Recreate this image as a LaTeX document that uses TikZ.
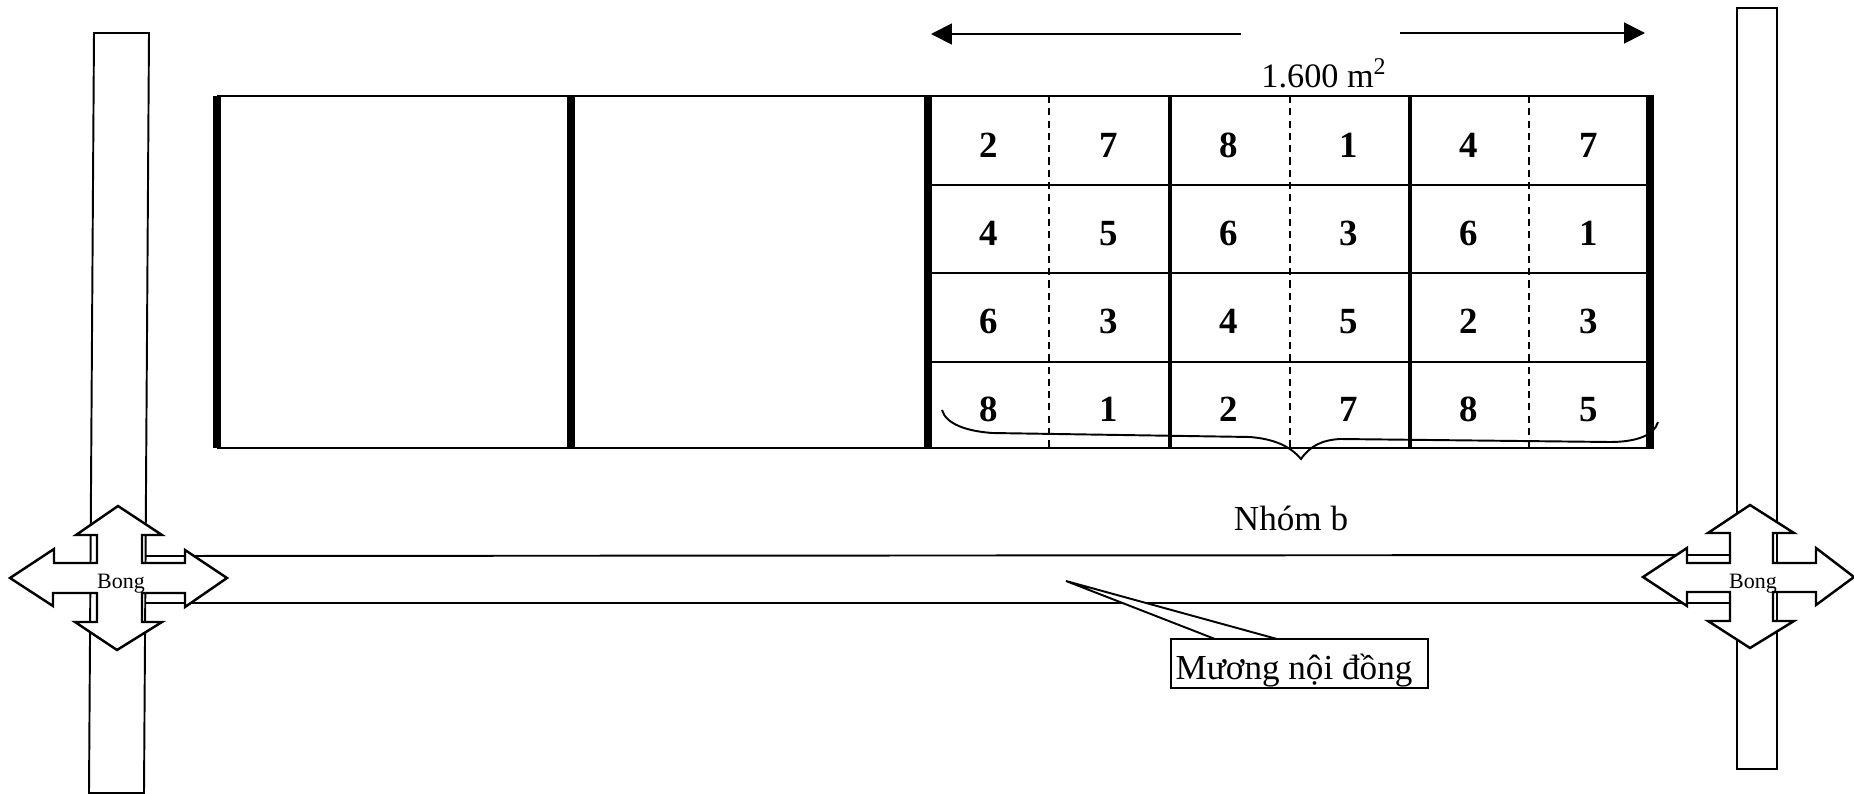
\documentclass[tikz,border=0pt]{standalone}
\usepackage{fontspec}
\setmainfont{Liberation Serif}
\usetikzlibrary{arrows.meta}
\tikzset{
    thinline/.style={line width=1.1pt},
    plotedge/.style={line width=4pt},
    repedge/.style={line width=1.8pt},
    halfedge/.style={line width=0.6pt, dash pattern=on 4pt off 3pt},
    bongarrow/.style={line width=1.4pt, fill=white, line join=miter},
    digit/.style={anchor=base, inner sep=0pt, font=\fontsize{21}{21}\selectfont\bfseries},
    label/.style={anchor=base, inner sep=0pt, font=\fontsize{20}{20}\selectfont},
    bong/.style={anchor=base, inner sep=0pt, font=\fontsize{12.5}{12.5}\selectfont}
}
\begin{document}
\begin{tikzpicture}[x=0.02cm, y=-0.02cm]
    \useasboundingbox (0,0) rectangle (1854,794);

    % Roads
    \draw[thinline] (94,33) -- (149,33) -- (144,793) -- (89,793) -- cycle;
    \draw[thinline] (1737,8) -- (1777,8) -- (1777,769) -- (1737,769) -- cycle;

    % Canal
    \draw[thinline] (146,556) -- (1730,555);
    \draw[thinline] (146,603) -- (1730,603);

    % Field block
    \draw[thinline] (217,96) -- (1654,96);
    \draw[thinline] (217,448) -- (1654,448);
    \foreach \y in {185,273,362}
        \draw[thinline] (928,\y) -- (1650,\y);
    \foreach \x in {217,571,928,1650}
        \draw[plotedge] (\x,96) -- (\x,448);
    \foreach \x in {1170,1410}
        \draw[repedge] (\x,96) -- (\x,448);
    \foreach \x in {1049,1290,1529}
        \draw[halfedge] (\x,96) -- (\x,448);

    % Treatments, row by row
    \foreach \y/\row in {157/{2,7,8,1,4,7}, 245/{4,5,6,3,6,1}, 333/{6,3,4,5,2,3}, 421/{8,1,2,7,8,5}}
        \foreach \v [count=\c] in \row
            \node[digit] (t\y-\c) at ({989+120*(\c-1)},\y) {\v};

    % Width arrows
    \coordinate (widthleft) at (1241,34);
    \coordinate (widthlefttip) at (931,34);
    \coordinate (widthright) at (1400,33);
    \coordinate (widthrighttip) at (1645,33);
    \draw[thinline, -{Triangle[length=21*0.567pt, width=21*0.567pt]}] (widthleft) -- (widthlefttip);
    \draw[thinline, -{Triangle[length=21*0.567pt, width=21*0.567pt]}] (widthright) -- (widthrighttip);
    \node[label, font=\fontsize{19.5}{19.5}\selectfont] (area) at (1324,88) {1.600 m\textsuperscript{2}};

    % Brace under the group
    \draw[thinline] (942,410) .. controls (946,424) and (966,431) .. (992,433)
        -- (1250,437) .. controls (1274,439) and (1290,446) .. (1301,459)
        .. controls (1310,446) and (1322,440) .. (1340,439)
        -- (1610,442) .. controls (1635,442) and (1654,436) .. (1658,422);
    \node[label] (group) at (1291,530) {Nhóm b};

    % Left sluice
    \draw[bongarrow] (118,506) -- (162,535) -- (142,535) -- (142,563) -- (185,563) -- (185,550)
        -- (227,578) -- (185,607) -- (185,593) -- (142,593) -- (142,622) -- (162,622)
        -- (117,650) -- (75,622) -- (97,622) -- (97,593) -- (53,593) -- (53,606)
        -- (10,578) -- (54,549) -- (54,563) -- (97,563) -- (97,535) -- (76,535) -- cycle;
    \node[bong] (bongleft) at (121,588) {Bong};

    % Right sluice
    \draw[bongarrow] (1750,505) -- (1794,533) -- (1773,533) -- (1773,563) -- (1816,563) -- (1816,548)
        -- (1854,577) -- (1816,605) -- (1816,592) -- (1773,592) -- (1773,621) -- (1794,621)
        -- (1750,648) -- (1708,621) -- (1730,621) -- (1730,592) -- (1687,592) -- (1687,606)
        -- (1643,577) -- (1687,548) -- (1687,563) -- (1730,563) -- (1730,533) -- (1708,533) -- cycle;
    \node[bong] (bongright) at (1753,588) {Bong};

    % Canal callout
    \coordinate (calloutip) at (1066,581);
    \coordinate (calloutleft) at (1215,639);
    \coordinate (calloutright) at (1277,639);
    \draw[thinline, fill=white] (calloutip) -- (calloutright) -- (calloutleft) -- cycle;
    \draw[thinline, fill=white] (1171,639) rectangle (1428,688);
    \node[label] (canal) at (1294,679) {Mương nội đồng};
\end{tikzpicture}
\end{document}
